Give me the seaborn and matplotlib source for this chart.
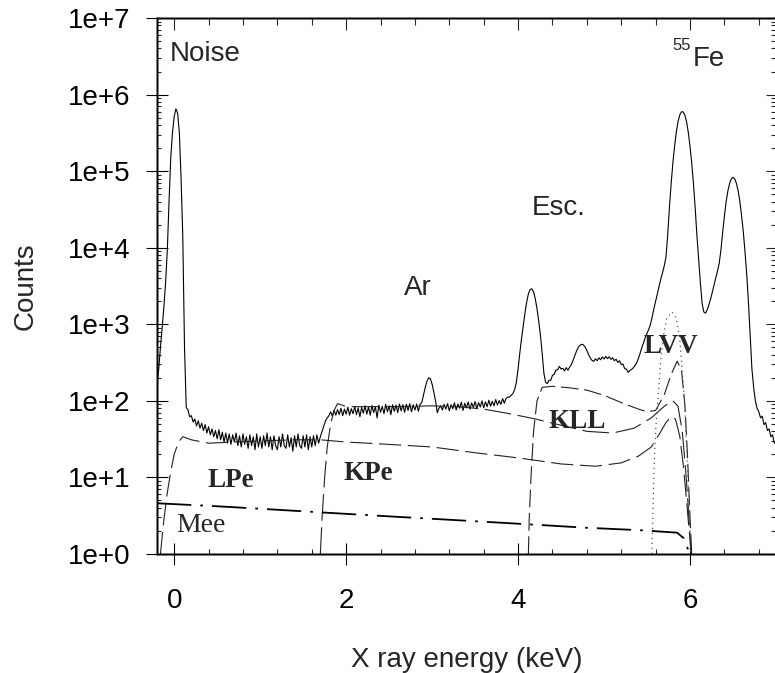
import numpy as np
import pandas as pd
import matplotlib
matplotlib.use("Agg")
import matplotlib.pyplot as plt
from matplotlib.ticker import MultipleLocator, LogLocator, FuncFormatter, NullFormatter
import seaborn as sns

# ---------------- data (energy channels every 0.02 keV, counts) -------------
STEP = 0.02
seg_noise_peak_start = -0.20
seg_noise_peak = [160, 260, 500, 900, 1700, 3500, 9300, 4.0e4, 1.5e5, 3.2e5,
                  5.2e5, 6.5e5, 5.7e5, 3.2e5, 8.0e4, 1.4e4, 500, 82]
seg_floor_start = 0.16
seg_floor = [76, 62, 64, 53, 58, 47, 55, 44, 51, 41,
             49, 38, 46, 36, 43, 34, 41, 32, 42, 31,
             39, 29, 38, 28, 37, 27, 36, 29, 38, 26,
             35, 25, 37, 27, 34, 24, 36, 26, 34, 23,
             37, 25, 34, 24, 35, 26, 38, 25, 34, 23,
             35, 26, 23, 34, 25, 37, 26, 24, 36, 25,
             33, 22, 35, 25, 37, 26, 24, 35, 25, 36,
             23, 34, 25, 35, 26, 36, 28]
seg_kedge_start = 1.70
seg_kedge = [34, 40, 47, 55, 60, 64, 72, 63, 75, 65, 77]
seg_mid_start = 1.92
seg_mid = [66, 80, 64, 78, 67, 83, 65, 79, 68, 84,
           66, 81, 62, 82, 69, 86, 67, 83, 65, 87,
           70, 84, 60, 88, 71, 85, 68, 90, 72, 86,
           66, 89, 73, 88, 70, 91, 74, 89, 71, 90,
           75, 92, 72, 89, 76, 91, 73, 90]
seg_ar_start = 2.88
seg_ar = [95, 120, 150, 180, 200, 195, 165, 130, 100, 70, 80]
seg_pre_esc_start = 3.10
seg_pre_esc = [86, 76, 90, 78, 92, 74, 89, 79, 94, 76,
               91, 80, 96, 75, 93, 81, 97, 78, 94, 82,
               98, 79, 95, 83, 100, 81, 97, 84, 102, 85,
               99, 86, 104, 88, 101, 90, 107, 93, 108, 112]
seg_esc_start = 3.90
seg_esc = [112, 118, 125, 140, 175, 260, 420, 650, 950, 1400,
           1950, 2500, 2850, 2900, 2650, 2150, 1600, 1100, 720, 420,
           230, 175]
seg_post_esc_start = 4.34
seg_post_esc = [168, 186, 186, 216, 222, 252, 254, 282, 261, 266,
                246, 272, 251, 276, 300, 340, 392, 448, 500, 532,
                548, 538, 505, 455, 402, 362, 338, 328, 354, 334,
                364, 344, 374, 352, 382, 356, 376, 348, 366, 334,
                350, 318, 334, 298, 302, 264, 259, 236, 250]
seg_fe_start = 5.32
seg_fe = [257, 270, 290, 315, 360, 420, 500, 575, 680, 760,
          860, 1000, 1250, 1600, 2000, 2500, 3100, 3900, 4700, 5800,
          7500, 1.45e4, 3.3e4, 6.8e4, 1.26e5, 2.1e5, 3.2e5, 4.4e5, 5.4e5, 5.95e5,
          5.95e5, 5.4e5, 4.4e5, 3.2e5, 2.1e5, 1.26e5, 6.8e4, 3.3e4, 1.45e4, 7000,
          3500, 1900, 1450, 1400, 1550, 1800, 2150, 2650, 3250, 4000,
          5000, 6300, 9500, 1.6e4, 2.6e4, 4.0e4, 5.5e4, 6.9e4, 7.9e4, 8.3e4,
          7.9e4, 6.9e4, 5.5e4, 4.0e4, 2.6e4, 1.6e4, 8700, 4400, 1900, 700,
          260, 150, 100, 80]
seg_tail_start = 6.80
seg_tail = [72, 60, 63, 49, 52, 41, 43, 34, 36, 28, 29]

# model components
lpe_x = [-0.16, -0.12, -0.08, -0.04, 0.0, 0.05, 0.10, 0.20, 0.40, 0.70, 1.0, 1.4, 1.7, 2.0, 2.5,
         3.0, 3.5, 4.0, 4.5, 4.9, 5.2, 5.4, 5.55, 5.65, 5.72, 5.78, 5.83, 5.88, 5.92, 5.96, 5.99, 6.02]
lpe_y = [1.0, 2.8, 6.3, 12, 20, 29, 34, 31, 28, 29, 30, 31, 31, 29, 27,
         25, 21, 18, 15, 14, 15.5, 19, 25, 38, 52, 62, 58, 35, 15, 5, 2, 1.0]
kpe_x = [1.70, 1.72, 1.75, 1.78, 1.82, 1.86, 1.90, 1.95, 2.0, 2.5, 3.0, 3.3, 3.6, 3.9, 4.2,
         4.5, 4.8, 5.1, 5.35, 5.55, 5.7, 5.8, 5.86, 5.91, 5.95, 5.98, 6.01]
kpe_y = [1.0, 3, 10, 25, 50, 75, 92, 88, 84, 84, 86, 84, 78, 68, 58,
         48, 40, 38, 44, 60, 85, 100, 85, 40, 12, 4, 1.0]
kll_x = [4.12, 4.13, 4.15, 4.18, 4.22, 4.28, 4.4, 4.6, 4.8, 5.0, 5.2, 5.4, 5.5, 5.6, 5.7,
         5.78, 5.85, 5.9, 5.94, 5.97, 6.0, 6.02]
kll_y = [1.0, 3, 10, 40, 100, 150, 155, 148, 138, 118, 95, 78, 72, 75, 120,
         220, 330, 250, 90, 20, 3, 1.0]
lvv_x = [5.555, 5.565, 5.58, 5.60, 5.63, 5.66, 5.69, 5.73, 5.79, 5.84, 5.88, 5.91, 5.93, 5.96, 5.99, 6.01]
lvv_y = [1, 2.5, 12, 40, 120, 350, 700, 1200, 1450, 1200, 650, 250, 120, 25, 4, 1]
mee_x = [-0.20, 0.5, 1.0, 1.7, 2.5, 3.2, 4.1, 4.8, 5.4, 5.85, 5.93, 5.97, 6.0]
mee_y = [4.6, 4.2, 3.9, 3.5, 3.1, 2.8, 2.45, 2.2, 2.05, 1.9, 1.6, 1.2, 1.0]

y_tick_values = [1e0, 1e1, 1e2, 1e3, 1e4, 1e5, 1e6, 1e7]
x_tick_values = [0, 2, 4, 6]

# ---------------- assemble spectrum ----------------
segments = [(seg_noise_peak_start, seg_noise_peak), (seg_floor_start, seg_floor),
            (seg_kedge_start, seg_kedge), (seg_mid_start, seg_mid), (seg_ar_start, seg_ar),
            (seg_pre_esc_start, seg_pre_esc), (seg_esc_start, seg_esc),
            (seg_post_esc_start, seg_post_esc), (seg_fe_start, seg_fe), (seg_tail_start, seg_tail)]
ex, cy = [], []
for start, vals in segments:
    ex.extend(np.round(start + STEP * np.arange(len(vals)), 3))
    cy.extend(vals)
spec = pd.DataFrame({"energy": ex, "counts": cy})

# ---------------- style ----------------
sns.set_theme(style="ticks")
plt.rcParams["font.family"] = ["Liberation Sans", "DejaVu Sans"]
plt.rcParams["axes.linewidth"] = 1.0

W, H = 775, 673
fig = plt.figure(figsize=(W / 100, H / 100), dpi=100)
L, R, T, B = 157, 776, 18, 554
ax = fig.add_axes([L / W, 1 - B / H, (R - L) / W, (B - T) / H])

sns.lineplot(data=spec, x="energy", y="counts", ax=ax, color="black", lw=0.8,
             estimator=None, sort=False)

def comp(xs, ys, dashes, lw=0.8, color="black"):
    sns.lineplot(x=xs, y=ys, ax=ax, color=color, lw=lw, estimator=None, sort=False)
    ln = ax.lines[-1]
    ln.set_dashes(dashes)
    return ln

comp(lpe_x, lpe_y, (20, 6), lw=0.8, color="#222222")
comp(kpe_x, kpe_y, (24, 6), lw=0.8, color="#222222")
comp(kll_x, kll_y, (16, 5), lw=0.8, color="#222222")
comp(lvv_x, lvv_y, (1, 3), lw=0.9, color="#555555")
comp(mee_x, mee_y, (19, 5, 1.5, 5), lw=1.3, color="black")

ax.set_yscale("log")
ax.set_xlim(-0.2, 7.0)
ax.set_ylim(1, 1e7)

fmt = FuncFormatter(lambda v, p: f"1e+{int(round(np.log10(v)))}")
ax.set_yticks(y_tick_values)
ax.yaxis.set_major_formatter(fmt)
ax.yaxis.set_minor_locator(LogLocator(base=10, subs=np.arange(2, 10), numticks=30))
ax.yaxis.set_minor_formatter(NullFormatter())
ax.set_xticks(x_tick_values)
ax.xaxis.set_minor_locator(MultipleLocator(0.4))

ax.tick_params(axis="x", which="major", direction="inout", length=16, width=0.8,
               pad=16.5, labelsize=20, colors="black")
ax.tick_params(axis="x", which="minor", direction="in", length=3.5, width=0.8)
ax.tick_params(axis="y", which="major", direction="inout", length=16, width=0.8,
               pad=11.4, labelsize=20, colors="black")
ax.tick_params(axis="y", which="minor", direction="in", length=3, width=0.8)

ax.set_xlabel("X ray energy (keV)", fontsize=20, labelpad=24)
ax.set_ylabel("Counts", fontsize=20, labelpad=21)

# top / right ticks (inward)
axt = ax.twiny()
axt.set_xlim(ax.get_xlim())
axt.set_xticks(x_tick_values)
axt.xaxis.set_minor_locator(MultipleLocator(0.4))
axt.tick_params(axis="x", which="major", direction="in", length=8.5, width=0.8, labeltop=False)
axt.tick_params(axis="x", which="minor", direction="in", length=5, width=0.8)
axr = ax.twinx()
axr.set_yscale("log")
axr.set_ylim(ax.get_ylim())
axr.set_yticks(y_tick_values)
axr.yaxis.set_minor_locator(LogLocator(base=10, subs=np.arange(2, 10), numticks=30))
axr.tick_params(axis="y", which="major", direction="in", length=7, width=0.8, labelright=False)
axr.tick_params(axis="y", which="minor", direction="in", length=3.5, width=0.8, labelright=False)
for a in (ax, axt, axr):
    for s in a.spines.values():
        s.set_color("black")
        s.set_linewidth(1.0)

# annotations
sans = dict(fontsize=20, ha="left", va="baseline", family=["Liberation Sans", "DejaVu Sans"])
serif_b = dict(fontsize=19.5, ha="left", va="baseline", family=["Liberation Serif", "DejaVu Serif"],
               fontweight="bold")
ax.text(-0.047, 2.73e6, "Noise", **sans)
ax.text(2.674, 2405, "Ar", **sans)
ax.text(4.163, 2.67e4, "Esc.", **sans)
ax.text(5.79, 3.8e6, "55", fontsize=12, ha="left", va="baseline", family=["Liberation Sans"])
ax.text(6.035, 2.35e6, "Fe", **sans)
ax.text(0.384, 7.5, "LPe", **serif_b)
ax.text(1.965, 9.25, "KPe", **serif_b)
ax.text(4.35, 44.2, "KLL", **serif_b)
ax.text(5.453, 421, "LVV", **serif_b)
ax.text(0.023, 1.94, "Mee", fontsize=20, ha="left", va="baseline",
        family=["Liberation Serif", "DejaVu Serif"])

fig.savefig("out.png", dpi=100)
